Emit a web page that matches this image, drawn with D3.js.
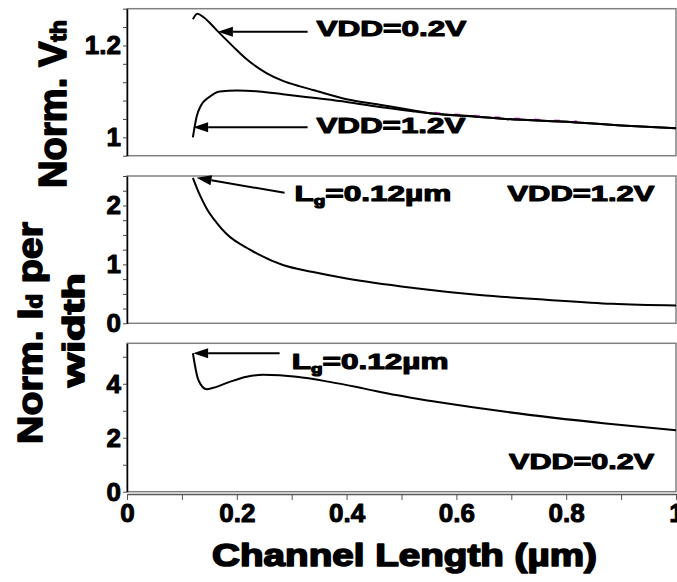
<!DOCTYPE html>
<html>
<head>
<meta charset="utf-8">
<script src="https://cdn.jsdelivr.net/npm/d3@7"></script>
<style>
  body { margin: 0; background: #fff; }
  text { font-family: "Liberation Sans", Arial, sans-serif; font-weight: bold; fill: #000; }
</style>
</head>
<body>
<svg id="chart" width="677" height="582"></svg>
<script>
// channel length (um) and values
const lenVth02 = [0.12, 0.128, 0.139, 0.151, 0.166, 0.193, 0.218, 0.254, 0.284, 0.315, 0.339, 0.4, 0.46, 0.52, 0.557, 0.636, 0.69, 0.812, 0.9, 1.0]
const vth02 = [1.257, 1.269, 1.262, 1.249, 1.230, 1.198, 1.170, 1.140, 1.123, 1.111, 1.103, 1.083, 1.071, 1.059, 1.052, 1.045, 1.040, 1.033, 1.026, 1.020]

const lenVth12 = [0.12, 0.127, 0.135, 0.148, 0.169, 0.2, 0.24, 0.284, 0.339, 0.4, 0.46, 0.52, 0.557, 0.636, 0.69, 0.812, 0.9, 1.0]
const vth12 = [1.0, 1.046, 1.07, 1.086, 1.100, 1.102, 1.100, 1.094, 1.086, 1.077, 1.066, 1.057, 1.052, 1.045, 1.040, 1.033, 1.026, 1.020]

// faint magenta dashes peeking over the merged Vth curves
const lenVthRef = [0.56, 0.6, 0.65, 0.7, 0.75, 0.8, 0.82]
const vthRef = [1.054, 1.050, 1.046, 1.042, 1.039, 1.036, 1.035]

const lenId12 = [0.12, 0.133, 0.145, 0.163, 0.181, 0.224, 0.284, 0.339, 0.4, 0.522, 0.642, 0.763, 0.884, 1.0]
const id12 = [2.47, 2.17, 1.95, 1.71, 1.52, 1.25, 0.99, 0.87, 0.76, 0.60, 0.48, 0.40, 0.33, 0.30]

const lenId02 = [0.12, 0.13, 0.145, 0.157, 0.187, 0.218, 0.248, 0.309, 0.369, 0.43, 0.49, 0.551, 0.63, 0.69, 0.872, 1.0]
const id02 = [5.13, 4.14, 3.80, 3.85, 4.07, 4.26, 4.33, 4.26, 4.07, 3.83, 3.58, 3.37, 3.13, 2.96, 2.53, 2.28]

const xTickLabels = [0, 0.2, 0.4, 0.6, 0.8, 1]
const vthTickLabels = [1, 1.2]
const id12TickLabels = [0, 1, 2]
const id02TickLabels = [0, 2, 4]

const svg = d3.select("#chart")
const x = d3.scaleLinear().domain([0, 1]).range([127, 676])

const panels = [
  {domain: [0.96, 1.28], range: [155.7, 8.7], step: 0.04, labels: vthTickLabels},
  {domain: [0, 2.5], range: [323.3, 176], step: 0.25, labels: id12TickLabels},
  {domain: [0, 5.5], range: [491.7, 343.3], step: 1, labels: id02TickLabels},
]
panels.forEach(p => { p.y = d3.scaleLinear().domain(p.domain).range(p.range) })

// text helper: stretch to a measured width, optional rotation
function label(parts, px, py, size, width, anchor, rot) {
  const t = svg.append("text")
    .attr("text-anchor", anchor)
    .style("font-size", size + "px")
    .attr("stroke", "#000").attr("stroke-width", size > 26 ? 1.6 : 1.1)
    .attr("stroke-linejoin", "round")
  parts.forEach(([s, small, dy]) => {
    const ts = t.append("tspan").text(s)
    if (small) ts.style("font-size", (size * 0.6) + "px").attr("dy", dy || 0)
    else if (dy) ts.attr("dy", dy)
  })
  const w = t.node().getComputedTextLength()
  const k = width ? width / w : 1
  t.attr("transform", `translate(${px},${py})${rot ? " rotate(-90)" : ""} scale(${k},1)`)
  return t
}

const line = (xs, ys, y) => d3.line()
  .x((d, i) => x(xs[i]))
  .y(d => y(d))
  .curve(d3.curveMonotoneX)(ys)

panels.forEach(p => {
  svg.append("rect")
    .attr("x", x(0)).attr("y", p.range[1])
    .attr("width", x(1) - x(0)).attr("height", p.range[0] - p.range[1])
    .attr("fill", "none").attr("stroke", "#808080").attr("stroke-width", 1.5)

  const ticks = d3.range(p.domain[0], p.domain[1] + p.step / 2, p.step)
  const ax = svg.append("g")
    .attr("transform", `translate(${x(0)},0)`)
    .call(d3.axisLeft(p.y).tickValues(ticks).tickSize(4).tickSizeOuter(0).tickPadding(2)
      .tickFormat(d => p.labels.some(v => Math.abs(v - d) < 1e-6) ? d3.format("~g")(d) : ""))
  ax.select(".domain").attr("stroke", "#000").attr("stroke-width", 1.5)
  ax.selectAll(".tick line").attr("stroke", "#444")
  ax.selectAll(".tick text").style("font-size", "26px").attr("stroke", "#000").attr("stroke-width", 1)
    .attr("stroke-linejoin", "round")
})

const [p1, p2, p3] = panels

svg.append("path").attr("d", line(lenVthRef, vthRef, p1.y))
  .attr("fill", "none").attr("stroke", "#e040e0").attr("stroke-width", 1.5).attr("stroke-dasharray", "6,14")

const curves = [
  [lenVth02, vth02, p1.y],
  [lenVth12, vth12, p1.y],
  [lenId12, id12, p2.y],
  [lenId02, id02, p3.y],
]
curves.forEach(([xs, ys, y]) => {
  svg.append("path").attr("d", line(xs, ys, y))
    .attr("fill", "none").attr("stroke", "#000").attr("stroke-width", 2)
})

// bottom axis, just below the last panel
const xa = svg.append("g")
  .attr("transform", "translate(0,494)")
  .call(d3.axisBottom(x).tickValues(d3.range(0, 1.05, 0.1)).tickSize(6).tickSizeOuter(0).tickPadding(4)
    .tickFormat(d => xTickLabels.some(v => Math.abs(v - d) < 1e-6) ? d3.format("~g")(d) : ""))
xa.select(".domain").attr("stroke", "#555").attr("stroke-width", 1.5)
xa.selectAll(".tick line").attr("stroke", "#555")
xa.selectAll(".tick text").style("font-size", "26px").attr("stroke", "#000").attr("stroke-width", 1)
  .attr("stroke-linejoin", "round")

// arrows
const arrows = [
  {y: p1.y, from: [0.329, 1.230], to: [0.1655, 1.230]},
  {y: p1.y, from: [0.329, 1.022], to: [0.1205, 1.022]},
  {y: p2.y, from: [0.287, 2.215], to: [0.1267, 2.47]},
  {y: p3.y, from: [0.278, 5.13], to: [0.1205, 5.13]},
]
arrows.forEach(a => {
  const x0 = x(a.from[0]), y0 = a.y(a.from[1]), x1 = x(a.to[0]), y1 = a.y(a.to[1])
  const ang = Math.atan2(y1 - y0, x1 - x0)
  const L = 15, H = 5
  const bx = x1 - L * Math.cos(ang), by = y1 - L * Math.sin(ang)
  svg.append("line").attr("x1", x0).attr("y1", y0).attr("x2", bx).attr("y2", by)
    .attr("stroke", "#000").attr("stroke-width", 2)
  svg.append("path")
    .attr("d", `M${x1},${y1}L${bx - H * Math.sin(ang)},${by + H * Math.cos(ang)}L${bx + H * Math.sin(ang)},${by - H * Math.cos(ang)}Z`)
    .attr("fill", "#000")
})

// annotations
label([["VDD=0.2V"]], x(0.345), p1.y(1.221), 22, 150, "start")
label([["VDD=1.2V"]], x(0.345), p1.y(1.009), 22, 149, "start")
label([["L"], ["g", true, 4], ["=0.12µm", false, -4]], x(0.305), p2.y(2.07), 22, 157, "start")
label([["VDD=1.2V"]], x(0.693), p2.y(2.07), 22, 147, "start")
label([["L"], ["g", true, 4], ["=0.12µm", false, -4]], x(0.300), p3.y(4.53), 22, 157, "start")
label([["VDD=0.2V"]], x(0.696), p3.y(0.83), 22, 145, "start")

// axis titles
label([["Channel Length (µm)"]], 404.5, 566, 31, 385, "middle")
label([["Norm. V"], ["th", true, 0]], 66, 104, 38, 168, "middle", true)
label([["Norm. I"], ["d", true, 0], [" per"]], 42, 333, 36, 222, "middle", true)
label([["width"]], 84, 330, 30, 114, "middle", true)
</script>
</body>
</html>
